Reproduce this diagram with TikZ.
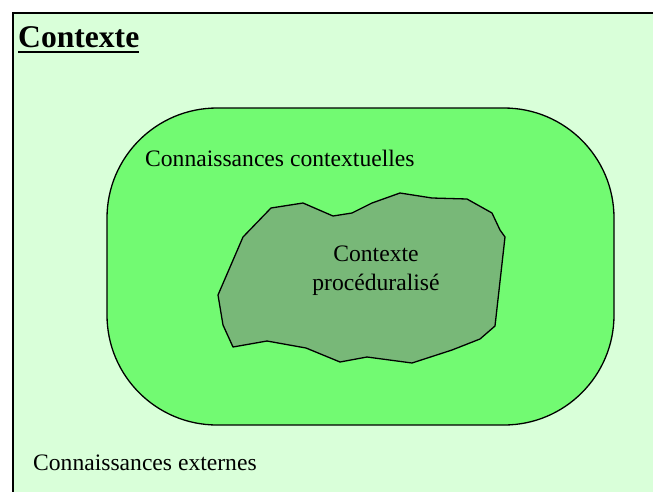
\documentclass[tikz,border=0pt]{standalone}
\usepackage{fontspec}
\setmainfont{Liberation Serif}
\definecolor{bgc}{RGB}{217,255,217}
\definecolor{midc}{RGB}{114,250,114}
\definecolor{blobc}{RGB}{120,184,120}
\begin{document}
\begin{tikzpicture}[x=1pt,y=-1pt,
  lbl/.style={inner sep=0pt,anchor=base west,font=\fontsize{23.6}{28}\selectfont},
  ctr/.style={inner sep=0pt,anchor=base,font=\fontsize{23.6}{28}\selectfont}]
\useasboundingbox (0,0) rectangle (653,491);
\begin{scope}
\clip (0,0) rectangle (653,491);
\draw[line width=2.2pt,fill=bgc] (13,13) rectangle (680,520);
\end{scope}
\draw[line width=1.3pt,fill=midc,rounded corners=110pt] (107,108) rectangle (614,425);
\draw[line width=1.3pt,fill=blobc,line join=round]
 (271,208) -- (303,203) -- (333,216) -- (352,213) -- (372,203) -- (400,193)
 -- (432,198) -- (467,199) -- (492,213) -- (500,230) -- (505,237) -- (495,326)
 -- (480,339) -- (452,350) -- (412,363) -- (367,357) -- (340,362) -- (306,348)
 -- (267,341) -- (233,347) -- (223,325) -- (218,295) -- (243,237) -- cycle;
\node[inner sep=0pt,anchor=base west,font=\fontsize{31.6}{36}\selectfont\bfseries] (title) at (18,47) {Contexte};
\draw[line width=2pt] ([yshift=-5pt]title.base west) -- ([yshift=-5pt]title.base east);
\node[lbl] (ctxt) at (145,166) {Connaissances contextuelles};
\node[lbl] (ext) at (33,470) {Connaissances externes};
\node[ctr] (p1) at (376,261) {Contexte};
\node[ctr] (p2) at (376,290) {procéduralisé};
\end{tikzpicture}
\end{document}
